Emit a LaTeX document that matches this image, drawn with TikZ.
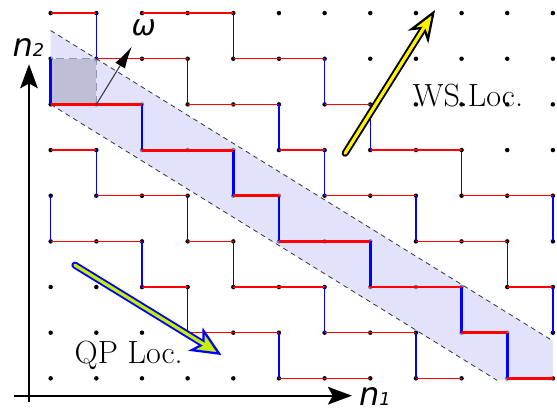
\documentclass[tikz,border=0pt]{standalone}
\usepackage{fontspec}
\newfontfamily\axisfont{DejaVu Sans}[ItalicFont={DejaVu Sans Oblique}]
\usetikzlibrary{arrows.meta}
\definecolor{bandblue}{RGB}{207,207,247}
\definecolor{qplime}{RGB}{196,240,0}
\definecolor{omegaline}{RGB}{60,60,80}

\begin{document}
\begin{tikzpicture}[
    hop/.style={red, line width=0.9pt},
    drop/.style={blue, line width=0.9pt},
    hoppath/.style={red, line width=1.8pt},
    droppath/.style={blue, line width=1.8pt},
    axis/.style={line width=1.3pt, -{Stealth[length=15pt,width=11pt,inset=3pt]}},
    biglabel/.style={font=\fontsize{20}{24}\selectfont}
]
\useasboundingbox (-1.11,-0.716) rectangle (11.09,8.287);

% lattice points
\foreach \i in {0,...,11}
  \foreach \j in {0,...,8}
    \coordinate (p\i-\j) at (\i,\j);

% unit cell
\fill[gray!70] (p0-6) rectangle (p1-7);
\draw[omegaline, line width=0.6pt, dash pattern=on 5pt off 3pt] (p0-6) rectangle (p1-7);

\foreach \i in {0,...,11}
  \foreach \j in {0,...,8}
    \fill (p\i-\j) circle (1.4pt);

% strip
\coordinate (s1) at (0,7.618);
\coordinate (s2) at (11,0.820);
\coordinate (s3) at (11,-0.04);
\coordinate (s4) at (9.773,-0.04);
\fill[bandblue, fill opacity=0.6] (s1) -- (s2) -- (s3) -- (s4) -- (p0-6) -- cycle;
\draw[black!80, line width=0.5pt, dash pattern=on 3pt off 2.5pt] (s1) -- (s2);
\draw[black!80, line width=0.5pt, dash pattern=on 3pt off 2.5pt] (p0-6) -- (s4);

% horizontal hops
\foreach \ha/\hb/\hr in {0/1/8, 2/4/8, 1/3/7, 4/6/7, 3/5/6, 6/7/6, 0/1/5, 5/6/5,
    7/9/5, 1/3/4, 6/8/4, 9/11/4, 0/2/3, 3/4/3, 8/10/3, 2/3/2, 4/6/2, 10/11/2,
    3/5/1, 6/8/1, 5/7/0, 8/9/0}
  \draw[hop] (p\ha-\hr) -- (p\hb-\hr);

% vertical drops
\foreach \vc/\vt/\vb in {1/8/7, 4/8/7, 3/7/6, 6/7/6, 5/6/5, 7/6/5, 1/5/4, 6/5/4,
    9/5/4, 0/4/3, 3/4/3, 8/4/3, 11/4/3, 2/3/2, 4/3/2, 10/3/2, 3/2/1, 6/2/1,
    11/2/1, 5/1/0, 8/1/0}
  \draw[drop] (p\vc-\vt) -- (p\vc-\vb);

% highlighted staircase
\foreach \vc/\vt/\vb in {0/7/6, 2/6/5, 4/5/4, 5/4/3, 7/3/2, 9/2/1, 10/1/0}
  \draw[droppath] (p\vc-\vt) -- (p\vc-\vb);
\foreach \ha/\hb/\hr in {0/2/6, 2/4/5, 4/5/4, 5/7/3, 7/9/2, 9/10/1, 10/11/0}
  \draw[hoppath] (p\ha-\hr) -- (p\hb-\hr);

% omega
\coordinate (om) at (1.78,7.27);
\draw[omegaline, line width=0.7pt, -{Latex[length=14pt,width=7pt,color=black]}] (p1-6) -- (om);
\node[font=\axisfont\itshape\fontsize{18}{20}\selectfont] (omlbl) at (2.04,7.67) {ω};

% axes
\coordinate (o1) at (-0.80,-0.38);
\coordinate (x1) at (6.60,-0.38);
\coordinate (o2) at (-0.475,-0.52);
\coordinate (y2) at (-0.475,6.88);
\draw[axis] (o1) -- (x1);
\draw[axis] (o2) -- (y2);
\node[anchor=base, font=\axisfont\itshape\fontsize{20}{24}\selectfont] (n2lbl) at (-0.49,7.04) {n{\fontsize{11}{12}\selectfont 2}};
\node[anchor=base, font=\axisfont\itshape\fontsize{20}{24}\selectfont] (n1lbl) at (7.10,-0.585) {n{\fontsize{11}{12}\selectfont 1}};

% localisation arrows
\coordinate (wsA) at (6.45,4.93);
\coordinate (wsB) at (8.42,8.07);
\draw[line width=4.4pt, line cap=round, -{Stealth[length=20pt,width=15pt,inset=6pt,fill=yellow,line width=1.4pt]}] (wsA) -- (wsB);
\draw[yellow, line width=2pt, line cap=round, shorten >=12pt] (wsA) -- (wsB);

\coordinate (qpA) at (0.53,2.48);
\coordinate (qpB) at (3.74,0.51);
\draw[blue, line width=4.4pt, line cap=round, -{Stealth[length=19pt,width=17pt,inset=5pt,fill=qplime,line width=1.4pt]}] (qpA) -- (qpB);
\draw[qplime, line width=2pt, line cap=round, shorten >=10pt] (qpA) -- (qpB);

\node[biglabel, anchor=base] (wsloc) at (9.14,5.965) {WS.Loc.};
\node[biglabel, anchor=base] (qploc) at (1.71,0.33) {QP Loc.};
\end{tikzpicture}
\end{document}
